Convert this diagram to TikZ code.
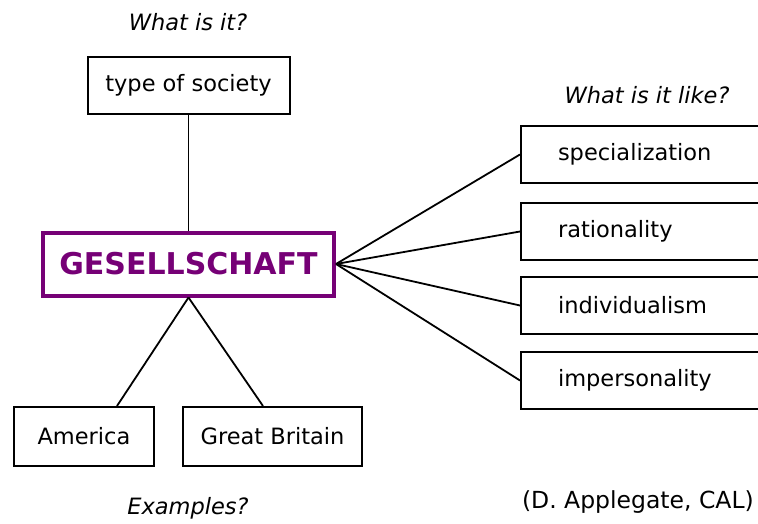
\documentclass[tikz,border=0pt]{standalone}
\usepackage{fontspec}
\setmainfont{DejaVu Sans}
\usepackage{tikz}
\usetikzlibrary{positioning}
\definecolor{gespurple}{RGB}{118,0,118}

\begin{document}
\begin{tikzpicture}[
    x=1pt, y=-1pt,
    % GLOBAL CFG
    font=\fontsize{22.5}{27}\selectfont,
    % Styles
    box/.style={% For the plain boxes
        rectangle,
        draw,
        line width=2pt,
        minimum height=57pt,
        inner sep=0pt,
        },
    mainbox/.style={% For the central term
        rectangle,
        draw=gespurple,
        line width=4pt,
        text=gespurple,
        font=\fontsize{30}{36}\selectfont\bfseries,
        minimum width=291pt,
        minimum height=63pt,
        },
    trait/.style={% For the boxes on the right (cut off by the edge)
        box,
        anchor=west,
        text width=200pt,
        inner xsep=37pt,
        align=left,
        },
    question/.style={% For the italic questions
        font=\fontsize{22.5}{27}\selectfont\itshape,
        },
    link/.style={% Connectors
        line width=1.8pt,
        },
    ]

    % Page frame
    \clip (0,0) rectangle (758,524);

    % Central term and its kind
    \node [mainbox] (ges) at (188.5, 264) {GESELLSCHAFT};
    \node [box, minimum width=202pt] (type) at (188.5, 85.5) {type of society};
    \node [question] (whatis) at (188, 22) {What is it?};

    % Traits on the right
    \node [trait] (spec) at (520, 154.5) {specialization};
    \node [trait] (rat) at (520, 231.5) {rationality};
    \node [trait] (indiv) at (520, 305.5) {individualism};
    \node [trait] (imp) at (520, 380.5) {impersonality};
    \node [question] (whatlike) at (647, 95) {What is it like?};

    % Examples below
    \node [box, minimum width=140pt, minimum height=59pt] (usa) at (84, 436.5) {America};
    \node [box, minimum width=179pt, minimum height=59pt] (gb) at (272.5, 436.5) {Great Britain};
    \node [question] (examples) at (188, 508) {Examples?};

    \node [anchor=east, inner sep=0pt, font=\fontsize{23.5}{28}\selectfont] (credit) at (754, 502) {(D. Applegate, CAL)};

% Connecting all.
    \draw [link] (type) -- (ges);
    \foreach \t in {spec, rat, indiv, imp}
        \draw [link] (ges.east) -- (\t.west);
    \draw [link] (ges.south) -- ([xshift=33pt]usa.north);
    \draw [link] (ges.south) -- ([xshift=-9.5pt]gb.north);
\end{tikzpicture}
\end{document}
